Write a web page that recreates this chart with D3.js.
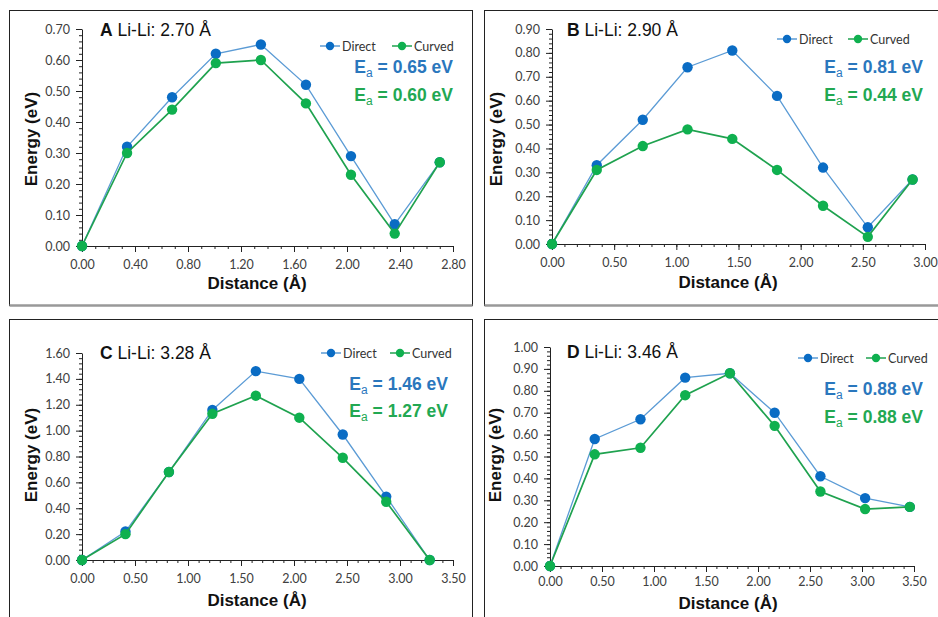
<!DOCTYPE html>
<html>
<head>
<meta charset="utf-8">
<script src="https://cdn.jsdelivr.net/npm/d3@7"></script>
<style>
  body { margin: 0; background: #fff; }
  svg { display: block; }
</style>
</head>
<body>
<div id="chart"></div>
<script>
// ---- data ----
var distA = [0, 0.34, 0.68, 1.01, 1.35, 1.69, 2.03, 2.36, 2.70],
  directA = [0, 0.32, 0.48, 0.62, 0.65, 0.52, 0.29, 0.07, 0.27],
  curvedA = [0, 0.30, 0.44, 0.59, 0.60, 0.46, 0.23, 0.04, 0.27];

var distB = [0, 0.36, 0.73, 1.09, 1.45, 1.81, 2.18, 2.54, 2.90],
  directB = [0, 0.33, 0.52, 0.74, 0.81, 0.62, 0.32, 0.07, 0.27],
  curvedB = [0, 0.31, 0.41, 0.48, 0.44, 0.31, 0.16, 0.03, 0.27];

var distC = [0, 0.41, 0.82, 1.23, 1.64, 2.05, 2.46, 2.87, 3.28],
  directC = [0, 0.22, 0.68, 1.16, 1.46, 1.40, 0.97, 0.49, 0],
  curvedC = [0, 0.20, 0.68, 1.13, 1.27, 1.10, 0.79, 0.45, 0];

var distD = [0, 0.43, 0.87, 1.30, 1.73, 2.16, 2.60, 3.03, 3.46],
  directD = [0, 0.58, 0.67, 0.86, 0.88, 0.70, 0.41, 0.31, 0.27],
  curvedD = [0, 0.51, 0.54, 0.78, 0.88, 0.64, 0.34, 0.26, 0.27];

var xTicksA = [0, 0.4, 0.8, 1.2, 1.6, 2.0, 2.4, 2.8],
  yTicksA = [0, 0.1, 0.2, 0.3, 0.4, 0.5, 0.6, 0.7],
  xTicksB = [0, 0.5, 1.0, 1.5, 2.0, 2.5, 3.0],
  yTicksB = [0, 0.1, 0.2, 0.3, 0.4, 0.5, 0.6, 0.7, 0.8, 0.9],
  xTicksC = [0, 0.5, 1.0, 1.5, 2.0, 2.5, 3.0, 3.5],
  yTicksC = [0, 0.2, 0.4, 0.6, 0.8, 1.0, 1.2, 1.4, 1.6],
  xTicksD = [0, 0.5, 1.0, 1.5, 2.0, 2.5, 3.0, 3.5],
  yTicksD = [0, 0.1, 0.2, 0.3, 0.4, 0.5, 0.6, 0.7, 0.8, 0.9, 1.0];

var letters = ["A", "B", "C", "D"],
  liLi = ["2.70", "2.90", "3.28", "3.46"],
  eaDirect = ["0.65", "0.81", "1.46", "0.88"],
  eaCurved = ["0.60", "0.44", "1.27", "0.88"],
  seriesNames = ["Direct", "Curved"];

var blue = '#0a6cc4',
  blueLine = '#5b9bd5',
  green = '#0fb04f',
  greenLine = '#1fa24f',
  blueText = '#2a77bd',
  greenText = '#22a852',
  tickColor = '#404040';

var width = 938, height = 617;

var svg = d3.select('#chart').append('svg')
  .attr('width', width)
  .attr('height', height);

// layout of each panel (pixel boxes)
var panels = [
  { frame: [9.5, 10.5, 463, 295], plot: [82, 453, 246, 29], xTicks: xTicksA, yTicks: yTicksA, xMinor: 0.1, yMinor: 0.02,
    dist: distA, direct: directA, curved: curvedA, title: [100, 36], legendY: 46, legX: [330, 402],
    ea: [453, 73, 101], xLab: [257, 289], yLab: [37, 139], xPad: 8 },
  { frame: [484.5, 10.5, 470, 295], plot: [552, 925, 244, 29], xTicks: xTicksB, yTicks: yTicksB, xMinor: 0.1, yMinor: 0.02,
    dist: distB, direct: directB, curved: curvedB, title: [567, 36], legendY: 39, legX: [787, 858],
    ea: [923, 73, 101], xLab: [728, 288], yLab: [502, 139], xPad: 8 },
  { frame: [9.5, 319.5, 463, 320], plot: [82, 453, 560, 353], xTicks: xTicksC, yTicks: yTicksC, xMinor: 0.1, yMinor: 0.04,
    dist: distC, direct: directC, curved: curvedC, title: [100, 359], legendY: 353, legX: [331, 400],
    ea: [448, 390, 417], xLab: [257, 606], yLab: [37, 455], xPad: 8 },
  { frame: [484.5, 319.5, 470, 320], plot: [550, 914, 566, 347], xTicks: xTicksD, yTicks: yTicksD, xMinor: 0.1, yMinor: 0.02,
    dist: distD, direct: directD, curved: curvedD, title: [567, 358], legendY: 358, legX: [808, 876],
    ea: [923, 395, 423], xLab: [728, 609], yLab: [501, 455], xPad: 5 }
];

panels.forEach(function (p, i) {
  var g = svg.append('g');

  // frame
  g.append('rect')
    .attr('x', p.frame[0]).attr('y', p.frame[1])
    .attr('width', p.frame[2]).attr('height', p.frame[3])
    .attr('fill', '#fff')
    .attr('stroke', '#222')
    .attr('stroke-width', 1);
  if (i < 2) {
    g.append('line')
      .attr('x1', p.frame[0]).attr('x2', p.frame[0] + p.frame[2])
      .attr('y1', p.frame[1] + p.frame[3]).attr('y2', p.frame[1] + p.frame[3])
      .attr('stroke', '#999').attr('stroke-width', 2.5);
  }

  var xDom = d3.extent(p.xTicks), yDom = d3.extent(p.yTicks);
  var x = d3.scaleLinear().domain(xDom).range([p.plot[0], p.plot[1]]);
  var y = d3.scaleLinear().domain(yDom).range([p.plot[2], p.plot[3]]);

  // minor ticks
  var xMinorTicks = d3.range(0, xDom[1] + 1e-9, p.xMinor);
  var yMinorTicks = d3.range(0, yDom[1] + 1e-9, p.yMinor);

  g.append('g')
    .attr('transform', 'translate(0,' + p.plot[2] + ')')
    .call(d3.axisBottom(x).tickValues(xMinorTicks).tickSize(3).tickFormat(''))
    .call(a => a.select('.domain').remove())
    .call(a => a.selectAll('.tick line').attr('stroke', '#222'));

  g.append('g')
    .attr('transform', 'translate(' + p.plot[0] + ',0)')
    .call(d3.axisLeft(y).tickValues(yMinorTicks).tickSize(3).tickFormat(''))
    .call(a => a.select('.domain').remove())
    .call(a => a.selectAll('.tick line').attr('stroke', '#222'));

  // major axes
  var xAxis = g.append('g')
    .attr('transform', 'translate(0,' + p.plot[2] + ')')
    .call(d3.axisBottom(x).tickValues(p.xTicks).tickSize(6).tickSizeOuter(0).tickPadding(p.xPad).tickFormat(d3.format('.2f')));
  var yAxis = g.append('g')
    .attr('transform', 'translate(' + p.plot[0] + ',0)')
    .call(d3.axisLeft(y).tickValues(p.yTicks).tickSize(6).tickSizeOuter(0).tickPadding(6).tickFormat(d3.format('.2f')));

  [xAxis, yAxis].forEach(function (a) {
    a.select('.domain').attr('stroke', '#222');
    a.selectAll('.tick line').attr('stroke', '#222');
    a.selectAll('.tick text')
      .attr('fill', tickColor)
      .style('font-family', 'Lato, "Open Sans", sans-serif')
      .style('font-size', '12.5px');
  });

  // series
  var line = d3.line()
    .x(function (d) { return x(d[0]); })
    .y(function (d) { return y(d[1]); });

  var series = [
    { vals: p.direct, lc: blueLine, mc: blue, lw: 1.3 },
    { vals: p.curved, lc: greenLine, mc: green, lw: 1.7 }
  ];

  series.forEach(function (s) {
    var pts = p.dist.map(function (d, k) { return [d, s.vals[k]]; });
    g.append('path')
      .datum(pts)
      .attr('fill', 'none')
      .attr('stroke', s.lc)
      .attr('stroke-width', s.lw)
      .attr('d', line);
    g.selectAll(null)
      .data(pts)
      .enter().append('circle')
      .attr('cx', function (d) { return x(d[0]); })
      .attr('cy', function (d) { return y(d[1]); })
      .attr('r', 5.2)
      .attr('fill', s.mc);
  });

  // panel title
  var t = g.append('text')
    .attr('x', p.title[0]).attr('y', p.title[1])
    .style('font-family', '"Liberation Sans", Arial, sans-serif')
    .style('font-size', '17.5px')
    .attr('fill', '#111');
  t.append('tspan').style('font-weight', 'bold').text(letters[i]);
  t.append('tspan').text(' Li-Li: ' + liLi[i] + ' \u00C5');

  // legend
  var legCols = [[blueLine, blue], [greenLine, green]];
  seriesNames.forEach(function (name, k) {
    var lx = p.legX[k];
    g.append('line')
      .attr('x1', lx - 10).attr('x2', lx + 10)
      .attr('y1', p.legendY).attr('y2', p.legendY)
      .attr('stroke', legCols[k][0]).attr('stroke-width', 1.5);
    g.append('circle')
      .attr('cx', lx).attr('cy', p.legendY).attr('r', 4.2)
      .attr('fill', legCols[k][1]);
    g.append('text')
      .attr('x', lx + 12).attr('y', p.legendY + 4.5)
      .style('font-family', 'Lato, "Open Sans", sans-serif')
      .style('font-size', '12.5px')
      .attr('fill', '#333')
      .text(name);
  });

  // activation energies
  [[eaDirect[i], blueText, p.ea[1]], [eaCurved[i], greenText, p.ea[2]]].forEach(function (e) {
    var et = g.append('text')
      .attr('x', p.ea[0]).attr('y', e[2])
      .attr('text-anchor', 'end')
      .style('font-family', '"Liberation Sans", Arial, sans-serif')
      .style('font-size', '17.5px')
      .style('font-weight', 'bold')
      .attr('fill', e[1]);
    et.append('tspan').text('E');
    et.append('tspan').attr('dy', 4).style('font-size', '12px').style('font-weight', 'normal').text('a');
    et.append('tspan').attr('dy', -4).text(' = ' + e[0] + ' eV');
  });

  // axis titles
  g.append('text')
    .attr('x', p.xLab[0]).attr('y', p.xLab[1])
    .attr('text-anchor', 'middle')
    .style('font-family', '"Liberation Sans", Arial, sans-serif')
    .style('font-size', '17px')
    .style('font-weight', 'bold')
    .attr('fill', '#111')
    .text('Distance (\u00C5)');

  g.append('text')
    .attr('transform', 'translate(' + p.yLab[0] + ',' + p.yLab[1] + ') rotate(-90)')
    .attr('text-anchor', 'middle')
    .style('font-family', '"Liberation Sans", Arial, sans-serif')
    .style('font-size', '17px')
    .style('font-weight', 'bold')
    .attr('fill', '#111')
    .text('Energy (eV)');
});
</script>
</body>
</html>
